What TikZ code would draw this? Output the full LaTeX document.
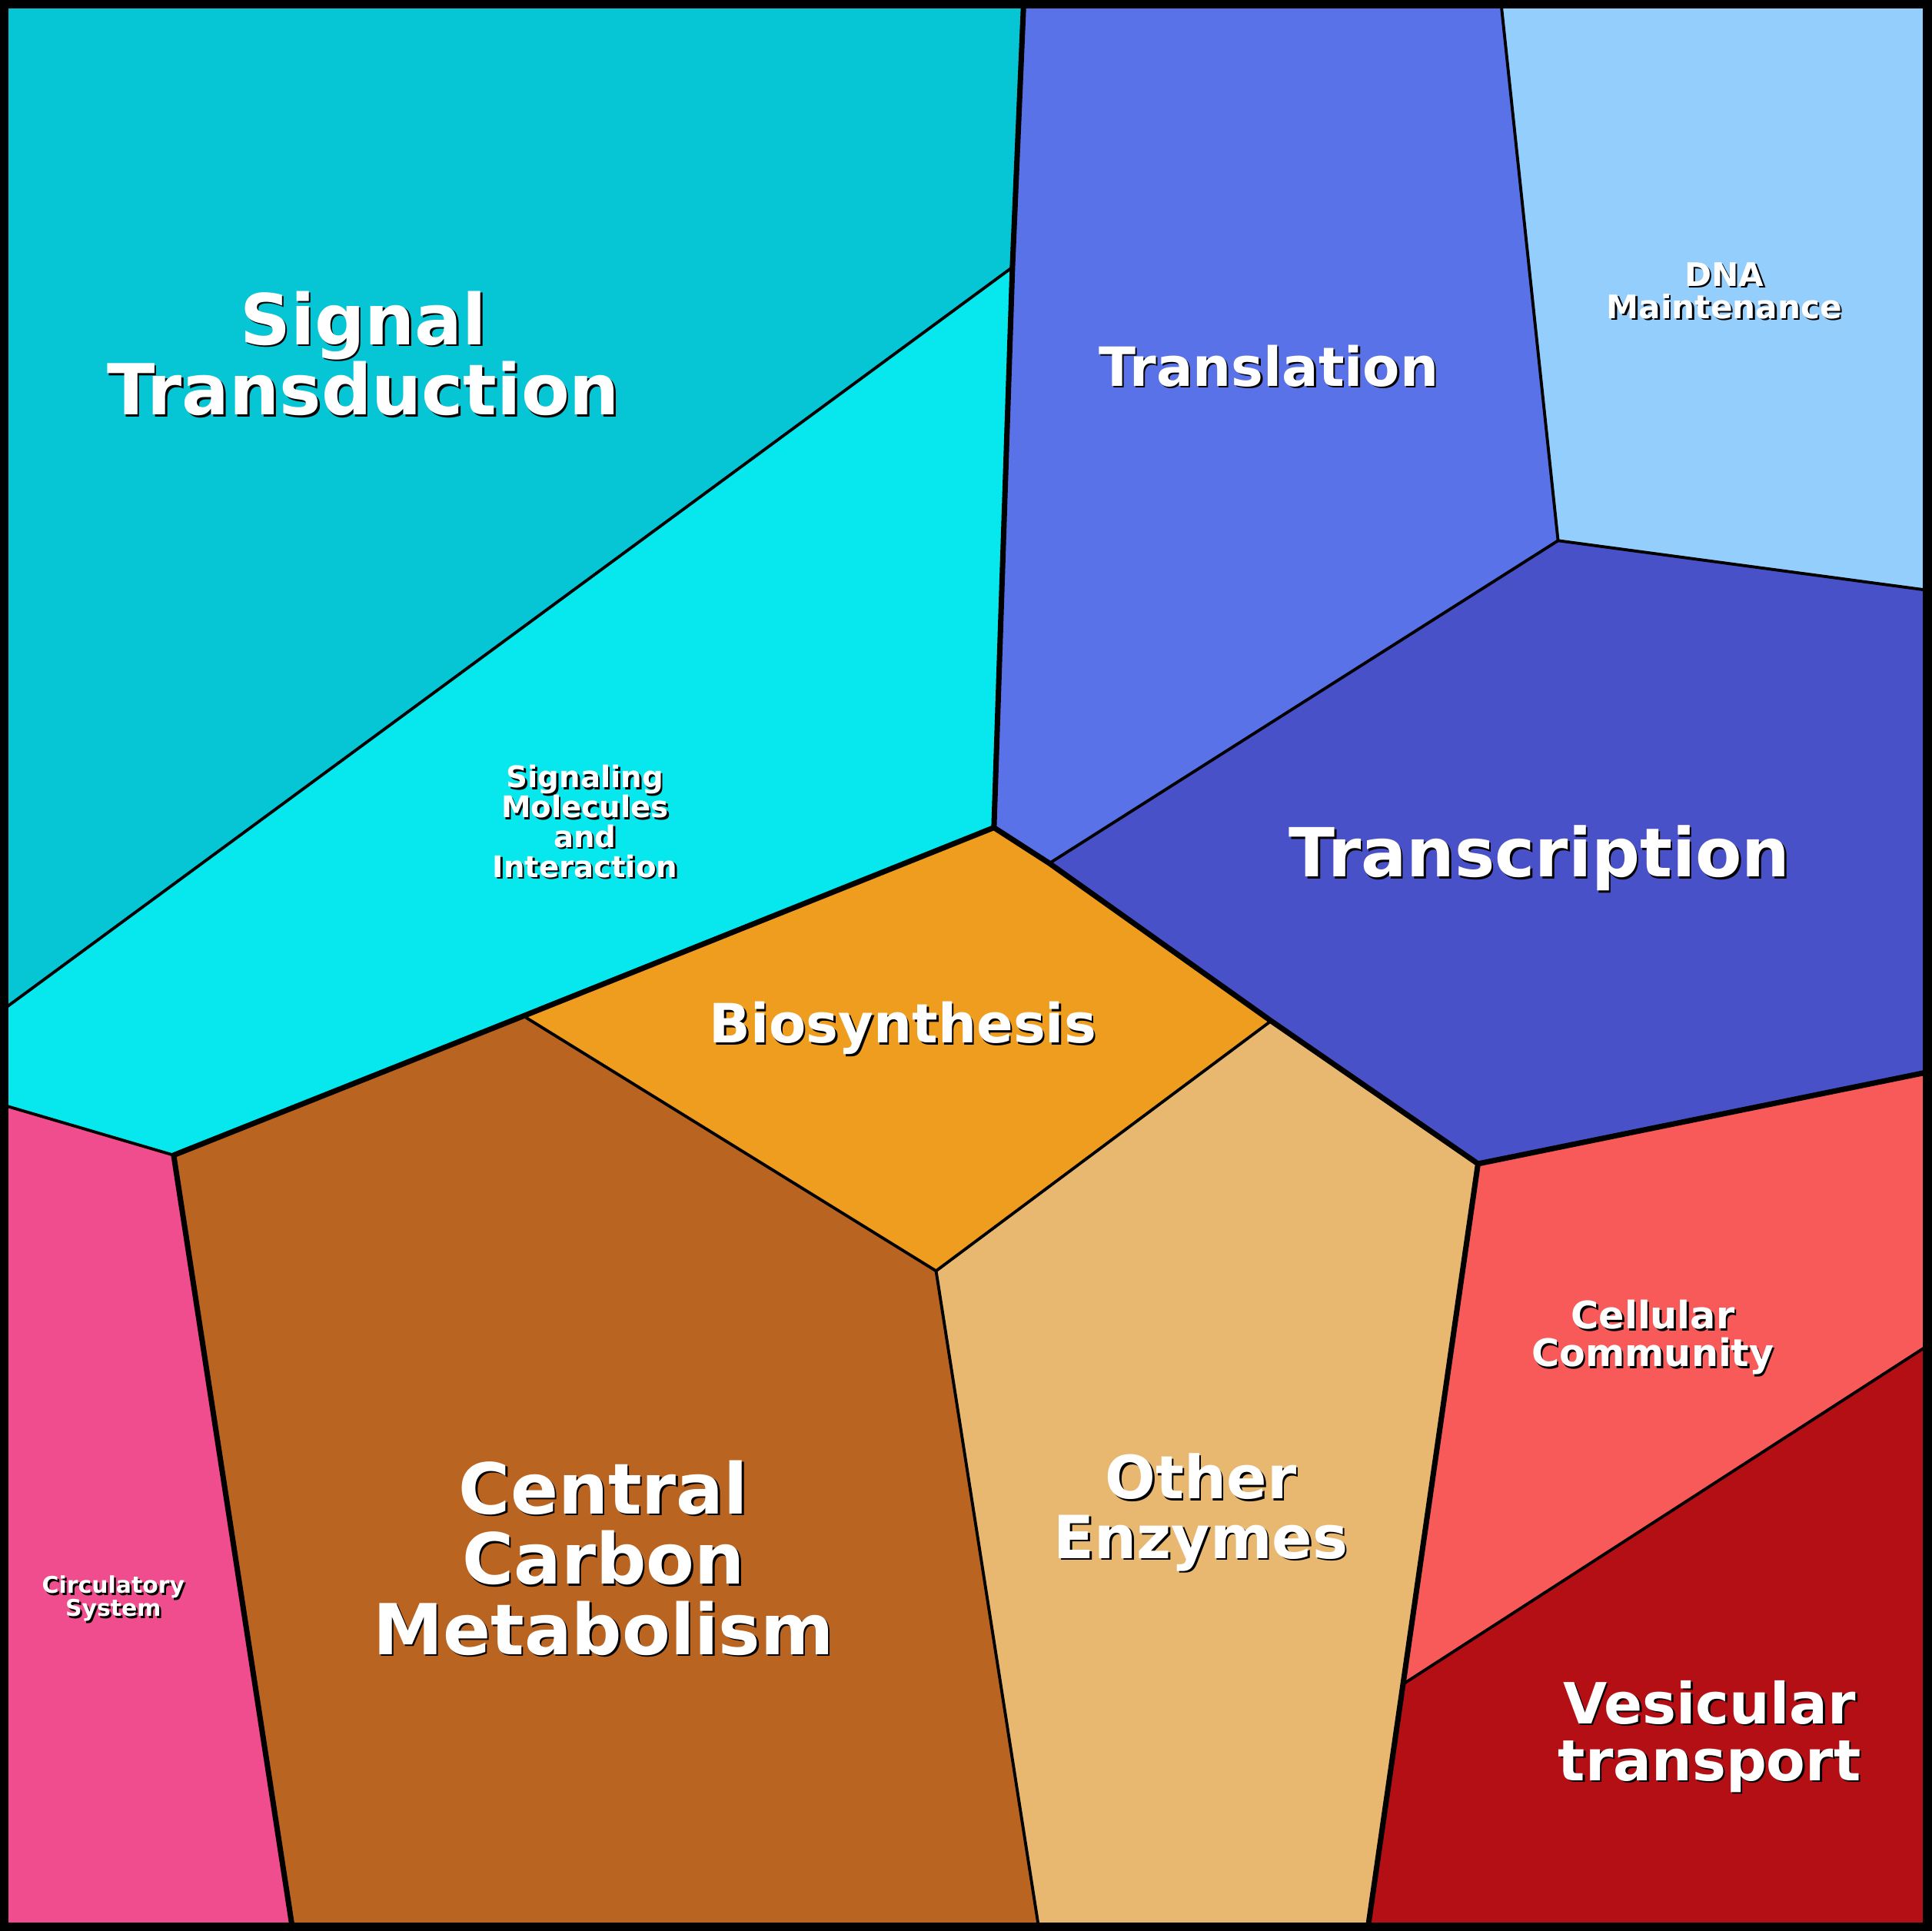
\documentclass[tikz,border=0pt]{standalone}
\usepackage{fontspec}
\setmainfont{DejaVu Sans}
\definecolor{cST}{HTML}{06C5D5}
\definecolor{cSM}{HTML}{06E8EE}
\definecolor{cTL}{HTML}{5A72E8}
\definecolor{cDNA}{HTML}{94CEFC}
\definecolor{cTC}{HTML}{4951C8}
\definecolor{cBIO}{HTML}{EE9D1F}
\definecolor{cCCM}{HTML}{BA6422}
\definecolor{cOE}{HTML}{E8B870}
\definecolor{cCIR}{HTML}{F04D8F}
\definecolor{cCC}{HTML}{F75A58}
\definecolor{cVT}{HTML}{B50F16}
\newcommand{\lbl}[4]{%
 \node[lab,text=black,font=\bfseries\fontsize{#2}{#2*1.2}\selectfont] at ([xshift=0.7pt,yshift=-0.7pt]#1) {#3};
 \node[lab,font=\bfseries\fontsize{#2}{#2*1.2}\selectfont] (#4) at (#1) {#3};}
\begin{document}
\begin{tikzpicture}[x=0.016cm,y=-0.016cm,
 thin line/.style={draw=black,line width=1.1pt},
 thick line/.style={draw=black,line width=2pt,line join=round},
 lab/.style={text=white,align=center,inner sep=0pt}]
\useasboundingbox (0,0) rectangle (1568,1568);
\fill[cST] (5,5) -- (831,5) -- (822,217) -- (5,818) -- cycle;
\fill[cSM] (822,217) -- (807,672) -- (425,825) -- (141,938) -- (5,898) -- (5,818) -- cycle;
\fill[cTL] (831,5) -- (1219,5) -- (1265,439) -- (852,701) -- (807,672) -- cycle;
\fill[cDNA] (1219,5) -- (1563,5) -- (1563,479) -- (1265,439) -- cycle;
\fill[cTC] (1265,439) -- (1563,479) -- (1563,871) -- (1200,945) -- (1032,829) -- (852,701) -- cycle;
\fill[cBIO] (425,825) -- (807,672) -- (852,701) -- (1032,829) -- (760,1032) -- cycle;
\fill[cCCM] (141,938) -- (425,825) -- (760,1032) -- (843,1563) -- (237,1563) -- cycle;
\fill[cOE] (760,1032) -- (1032,829) -- (1200,945) -- (1111,1563) -- (843,1563) -- cycle;
\fill[cCIR] (5,898) -- (141,938) -- (237,1563) -- (5,1563) -- cycle;
\fill[cCC] (1200,945) -- (1563,871) -- (1563,1094) -- (1140,1367) -- cycle;
\fill[cVT] (1140,1367) -- (1563,1094) -- (1563,1563) -- (1111,1563) -- cycle;
% thin lines
\draw[thin line] (822,217) -- (5,818);
\draw[thin line] (5,898) -- (141,938);
\draw[thin line] (1219,5) -- (1265,439) -- (1563,479);
\draw[thin line] (1265,439) -- (852,701);
\draw[thin line] (425,825) -- (760,1032) -- (1032,829);
\draw[thin line] (760,1032) -- (843,1563);
\draw[thin line] (1140,1367) -- (1563,1094);
% thick lines
\draw[thick line] (831,5) -- (822,217) -- (807,672);
\draw[thick line] (237,1563) -- (141,938) -- (425,825) -- (807,672) -- (852,701) -- (1032,829) -- (1200,945) -- (1563,871);
\draw[thick line] (1200,945) -- (1111,1563);
\draw[black,line width=3.5pt] (3,3) rectangle (1565,1565);
% labels
\lbl{295,287}{26pt}{Signal\\Transduction}{st}
\lbl{1030,297}{20pt}{Translation}{tl}
\lbl{1400,236}{12pt}{DNA\\Maintenance}{dna}
\lbl{475,667}{11pt}{Signaling\\Molecules\\and\\Interaction}{sm}
\lbl{1250,697}{25pt}{Transcription}{tc}
\lbl{733,835}{20pt}{Biosynthesis}{bio}
\lbl{490,1265}{26pt}{Central\\Carbon\\Metabolism}{ccm}
\lbl{975,1228}{22pt}{Other\\Enzymes}{oe}
\lbl{92,1298}{8.5pt}{Circulatory\\System}{cir}
\lbl{1342,1086}{14pt}{Cellular\\Community}{cc}
\lbl{1388,1410}{21pt}{Vesicular\\transport}{vt}
\end{tikzpicture}
\end{document}
